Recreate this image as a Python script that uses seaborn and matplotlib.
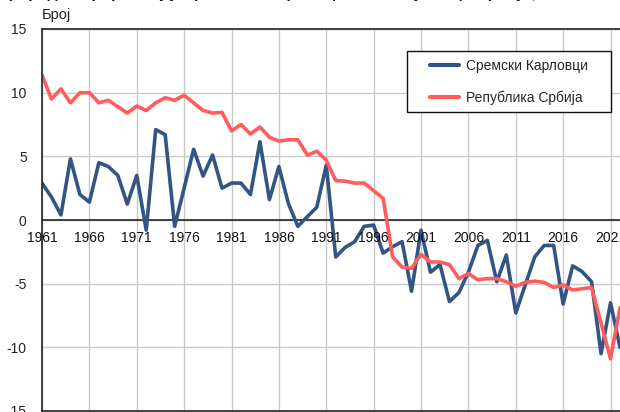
import numpy as np
import pandas as pd
import seaborn as sns
import matplotlib
matplotlib.use("Agg")
import matplotlib.pyplot as plt
from matplotlib.patches import Rectangle

years = list(range(1961, 2023))
karlovci = [2.9, 1.8, 0.4, 4.8, 2.0, 1.4, 4.5, 4.2, 3.5, 1.25,
            3.5, -0.8, 7.1, 6.7, -0.5, 2.5, 5.55, 3.45, 5.1, 2.5,
            2.9, 2.9, 2.0, 6.15, 1.6, 4.2, 1.3, -0.5, 0.26, 1.0,
            4.3, -2.9, -2.15, -1.7, -0.5, -0.4, -2.6, -2.1, -1.7, -5.6,
            -0.8, -4.1, -3.5, -6.4, -5.7, -4.1, -2.0, -1.6, -4.85, -2.75,
            -7.3, -5.1, -2.9, -2.0, -2.0, -6.6, -3.6, -4.05, -4.85, -10.5,
            -6.5, -10.0]
srbija = [11.4, 9.5, 10.3, 9.2, 10.0, 10.0, 9.2, 9.4, 8.9, 8.4,
          8.95, 8.6, 9.2, 9.6, 9.4, 9.8, 9.2, 8.6, 8.4, 8.45,
          7.0, 7.5, 6.75, 7.3, 6.5, 6.2, 6.3, 6.3, 5.1, 5.4,
          4.7, 3.1, 3.05, 2.9, 2.9, 2.3, 1.7, -2.9, -3.7, -3.8,
          -2.7, -3.3, -3.3, -3.5, -4.6, -4.2, -4.7, -4.6, -4.6, -4.85,
          -5.2, -4.9, -4.8, -4.9, -5.3, -5.1, -5.5, -5.4, -5.3, -8.1,
          -10.9, -6.9]
series_names = ["Сремски Карловци", "Република Србија"]
year_ticks = list(range(1961, 2022, 5))
year_tick_labels = [str(y) for y in year_ticks]
y_ticks = [-15, -10, -5, 0, 5, 10, 15]
title_text = "Природни прираштај у Сремским Карловцима и Републици Србији, 1961–2022"
y_label = "Број"

df = pd.DataFrame({
    "year": years * 2,
    "value": karlovci + srbija,
    "series": [series_names[0]] * len(years) + [series_names[1]] * len(years),
})

sns.set_theme(style="white")
plt.rcParams["font.family"] = ["Liberation Sans", "DejaVu Sans"]

W, H = 620, 412
fig = plt.figure(figsize=(6.2, 4.12), dpi=100)
ax = fig.add_axes([42 / W, 1 / H, 1 - 42 / W, 382 / H])

palette = {series_names[0]: "#325684", series_names[1]: "#ff5c5c"}
sns.lineplot(data=df, x="year", y="value", hue="series", palette=palette,
             linewidth=2.6, ax=ax, legend=True)

ax.set_xlim(1961, 2022)
ax.set_ylim(-15, 15)
ax.set_xticks(year_ticks)
ax.set_xticklabels([])
ax.set_yticks(y_ticks)
ax.set_yticklabels([str(v) for v in y_ticks], fontsize=10, color="#222222")
ax.tick_params(axis="both", length=0, pad=11)
ax.grid(True, color="#c8c8c8", linewidth=1)
ax.set_axisbelow(True)
ax.set_xlabel("")
ax.set_ylabel("")
for s in ax.spines.values():
    s.set_color("#222222")
    s.set_linewidth(1.2)
    s.set_visible(True)
ax.spines["right"].set_visible(False)
ax.axhline(0, color="#222222", linewidth=1.2, zorder=1.5)

for y, lab in zip(year_ticks, year_tick_labels):
    ax.annotate(lab, xy=(y, 0), xytext=(0, -8), textcoords="offset points",
                ha="center", va="top", fontsize=10, color="#111111")

fig.text(42 / W, 1 - 15 / H, y_label, ha="left", va="center", fontsize=10.5, color="#222222")
fig.text(-0.005, 1 + 2.0 / H, title_text, ha="left", va="baseline", fontsize=11.5,
         fontweight="bold", color="#111111")

# legend frame
ax.add_patch(Rectangle((407 / W, 1 - 112 / H), (611 - 407) / W, (112 - 51) / H,
                       transform=fig.transFigure, facecolor="white",
                       edgecolor="#111111", linewidth=1.0, zorder=4, clip_on=False))
leg = ax.legend(loc="upper left", bbox_to_anchor=(430 / W, 1 - 59 / H),
                bbox_transform=fig.transFigure, frameon=False,
                fontsize=10, handlelength=2.1, labelspacing=1.25, borderpad=0,
                handletextpad=0.5, borderaxespad=0)
leg.set_title(None)
leg.set_zorder(6)
for line in leg.get_lines():
    line.set_linewidth(3)

fig.savefig("out.png", dpi=100)
